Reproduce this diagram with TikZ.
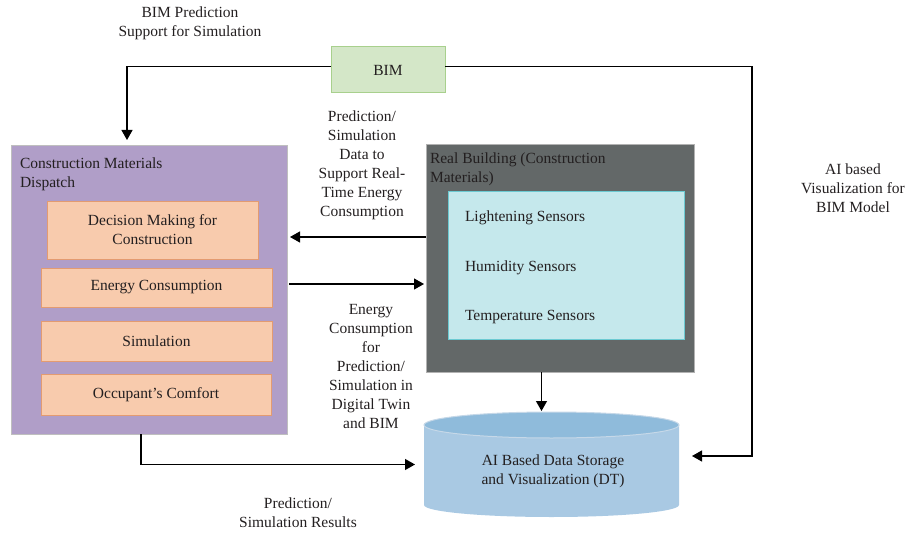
\documentclass[tikz,border=0pt]{standalone}
\usepackage{fontspec}
\setmainfont{Liberation Serif}
\usetikzlibrary{arrows.meta,positioning}

\definecolor{cmfill}{HTML}{B09EC8}
\definecolor{orfill}{HTML}{F8CBAD}
\definecolor{ordraw}{HTML}{E39B71}
\definecolor{rbfill}{HTML}{636868}
\definecolor{sbfill}{HTML}{C5E8EC}
\definecolor{sbdraw}{HTML}{6CCAD2}
\definecolor{bimfill}{HTML}{D4E7C8}
\definecolor{bimdraw}{HTML}{A8D08D}
\definecolor{cylbody}{HTML}{A9C9E3}
\definecolor{cyltop}{HTML}{8FBBDB}
\definecolor{cyldraw}{HTML}{C6D8E8}
\definecolor{txt}{HTML}{231F20}

\begin{document}
\begin{tikzpicture}[
x=1pt, y=-1pt,
font=\fontsize{15.5}{19}\selectfont,
text=txt,
every node/.style={inner sep=0pt, outer sep=0pt},
arr/.style={line width=1.2pt, -{Triangle[width=11pt,length=10pt]}},
cmbox/.style={draw=gray!50, fill=cmfill, line width=1pt},
obox/.style={draw=ordraw, fill=orfill, line width=1pt, align=center},
rbox/.style={draw=gray!60, fill=rbfill, line width=1pt},
sbox/.style={draw=sbdraw, fill=sbfill, line width=1pt},
lbl/.style={align=center}
]
\useasboundingbox (0,0) rectangle (914,535);

% BIM and the outer boxes
\node[draw=bimdraw, fill=bimfill, line width=1pt, minimum width=114pt, minimum height=46pt] (bim) at (388,70) {BIM};
\node[cmbox, minimum width=276pt, minimum height=289pt] (cmd) at (149,289.5) {};
\node[anchor=north west, align=left] (cmdt) at (20,158) {Construction Materials\\Dispatch};

\node[obox, minimum width=211pt, minimum height=58pt] (dm) at (152.5,230) {Decision Making for\\Construction};
\node[obox, minimum width=231pt, minimum height=39pt] (ec) at (156.5,287.5) {Energy Consumption};
\node[obox, minimum width=231pt, minimum height=40pt] (sim) at (156.5,341) {Simulation};
\node[obox, minimum width=230pt, minimum height=41pt] (oc) at (156,394.5) {Occupant’s Comfort};

% real building with sensors
\node[rbox, minimum width=268pt, minimum height=228pt] (rbl) at (560,258) {};
\node[anchor=north west, align=left] (rblt) at (430,153) {Real Building (Construction\\Materials)};
\node[sbox, minimum width=236pt, minimum height=148pt] (sens) at (566,265) {};
\node[anchor=west] (ls) at (465,218) {Lightening Sensors};
\node[anchor=west] (hs) at (465,268) {Humidity Sensors};
\node[anchor=west] (ts) at (465,317) {Temperature Sensors};

% data storage (DT)
\node[minimum width=255pt, minimum height=105pt] (dt) at (551.5,464.5) {};
\fill[cylbody] (424,425) -- (424,505) arc[start angle=180, end angle=360, x radius=127.5pt, y radius=12pt] -- (679,425) -- cycle;
\draw[cyldraw, fill=cyltop, line width=1pt] (551.5,425) ellipse[x radius=127.5pt, y radius=13pt];
\node[align=center] (dtt) at (553,471.5) {AI Based Data Storage\\and Visualization (DT)};

% labels
\node[lbl] (l1) at (190,23.5) {BIM Prediction\\Support for Simulation};
\node[lbl] (l2) at (362,165) {Prediction/\\Simulation\\Data to\\Support Real-\\Time Energy\\Consumption};
\node[lbl] (l3) at (371,366) {Energy\\Consumption\\for\\Prediction/\\Simulation in\\Digital Twin\\and BIM};
\node[lbl] (l4) at (853,188) {AI based\\Visualization for\\BIM Model};
\node[lbl] (l5) at (298,513) {Prediction/\\Simulation Results};

% connectors
\draw[arr] ([yshift=3.5pt]bim.west) -| ([shift={(-22pt,5pt)}]cmd.north);
\draw[arr] ([yshift=3.5pt]bim.east) -| (752,456) -- ([shift={(13pt,8.5pt)}]dt.east);
\draw[arr] ([yshift=21pt]rbl.west) -- ([xshift=3pt,yshift=21pt]rbl.west -| cmd.east);
\draw[arr] ([xshift=2pt,yshift=5.5pt]cmd.east) -- ([xshift=-2pt,yshift=5.5pt]cmd.east -| rbl.west);
\draw[arr] ([xshift=-18.5pt]rbl.south) -- ([xshift=-18.5pt,yshift=1pt]rbl.south |- dt.north);
\draw[arr] ([xshift=-8pt]cmd.south) |- ([xshift=-9pt]dt.west);

\end{tikzpicture}
\end{document}
